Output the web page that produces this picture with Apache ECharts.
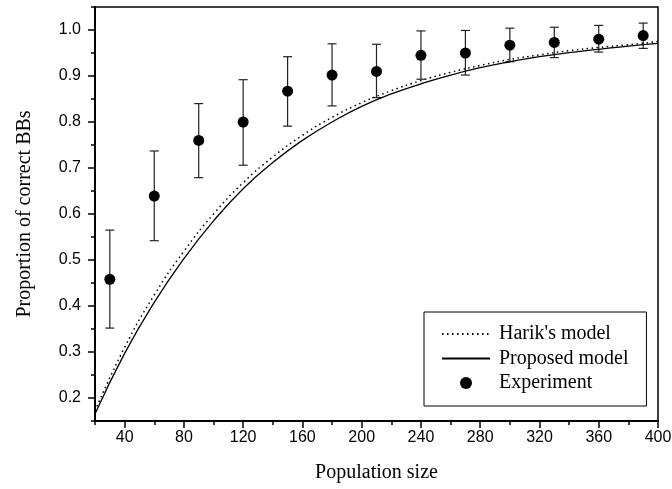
<!DOCTYPE html>
<html>
<head>
<meta charset="utf-8">
<script src="https://cdn.jsdelivr.net/npm/echarts@6/dist/echarts.min.js"></script>
<style>
html,body{margin:0;padding:0;background:#fff;}
#chart{width:672px;height:489px;}
</style>
</head>
<body>
<div id="chart"></div>
<script>
// ---- data ----
const expX    = [30, 60, 90, 120, 150, 180, 210, 240, 270, 300, 330, 360, 390];
const expY    = [0.458, 0.639, 0.760, 0.800, 0.867, 0.902, 0.910, 0.945, 0.950, 0.967, 0.973, 0.980, 0.988];
const expLow  = [0.352, 0.542, 0.679, 0.706, 0.791, 0.835, 0.853, 0.893, 0.902, 0.931, 0.940, 0.952, 0.960];
const expHigh = [0.565, 0.737, 0.840, 0.892, 0.942, 0.970, 0.969, 0.998, 0.999, 1.004, 1.006, 1.010, 1.015];

const modelX    = [20, 40, 60, 80, 100, 120, 140, 160, 180, 200, 220, 240, 260, 280, 300, 320, 340, 360, 380, 400];
const harikY    = [0.172, 0.310, 0.424, 0.519, 0.600, 0.668, 0.724, 0.771, 0.810, 0.842, 0.868, 0.890, 0.908, 0.923, 0.936, 0.946, 0.955, 0.962, 0.968, 0.975];
const proposedY = [0.165, 0.297, 0.408, 0.503, 0.585, 0.655, 0.712, 0.760, 0.800, 0.834, 0.861, 0.883, 0.902, 0.918, 0.931, 0.942, 0.951, 0.958, 0.965, 0.971];

const xMajorTicks = [40, 80, 120, 160, 200, 240, 280, 320, 360, 400];
const xMinorTicks = [20, 60, 100, 140, 180, 220, 260, 300, 340, 380];
const yMajorTicks = [0.2, 0.3, 0.4, 0.5, 0.6, 0.7, 0.8, 0.9, 1.0];
const yMinorTicks = [0.15, 0.25, 0.35, 0.45, 0.55, 0.65, 0.75, 0.85, 0.95, 1.05];

const xName = 'Population size';
const yName = 'Proportion of correct BBs';
const seriesNames = ["Harik's model", 'Proposed model', 'Experiment'];

// ---- chart ----
const chart = echarts.init(document.getElementById('chart'), null, {renderer: 'canvas'});
const sans = 'Liberation Sans, Arial, sans-serif';
const serif = 'Liberation Serif, Times New Roman, serif';

const harikData = modelX.map((x, i) => [x, harikY[i]]);
const propData = modelX.map((x, i) => [x, proposedY[i]]);
const expData = expX.map((x, i) => [x, expY[i]]);
const errData = expX.map((x, i) => [x, expLow[i], expHigh[i]]);

const hiddenSym = {color: 'rgba(0,0,0,0)', borderWidth: 0, opacity: 0};

const option = {
  animation: false,
  backgroundColor: '#fff',
  grid: {
    left: 95, right: 14, top: 7, bottom: 68,
    show: true, borderColor: '#000', borderWidth: 1.5,
    containLabel: false, outerBoundsMode: 'none'
  },
  legend: {
    orient: 'vertical',
    left: 424, top: 312,
    padding: [12, 18, 13, 17],
    borderColor: '#000', borderWidth: 1,
    backgroundColor: '#fff',
    itemWidth: 48, itemHeight: 12, itemGap: 4.5,
    textStyle: {fontFamily: serif, fontSize: 20, color: '#000', lineHeight: 20, padding: [0, 0, 0, 4]},
    data: [
      {name: seriesNames[0], itemStyle: hiddenSym},
      {name: seriesNames[1], itemStyle: hiddenSym},
      {name: seriesNames[2], icon: 'circle', itemStyle: {color: '#000', opacity: 1}}
    ]
  },
  xAxis: [
    {
      type: 'value', position: 'bottom', min: 20, max: 400,
      name: xName, nameLocation: 'middle', nameGap: 42,
      nameTextStyle: {fontFamily: serif, fontSize: 20, color: '#000'},
      axisLine: {show: true, lineStyle: {color: '#000', width: 2}},
      axisTick: {show: true, inside: false, length: 7, customValues: xMajorTicks, lineStyle: {color: '#000', width: 1.5}},
      axisLabel: {show: true, margin: 9, customValues: xMajorTicks, fontFamily: sans, fontSize: 16, color: '#000'},
      splitLine: {show: false}
    },
    {
      type: 'value', position: 'bottom', min: 20, max: 400,
      axisLine: {show: false},
      axisTick: {show: true, inside: false, length: 4, customValues: xMinorTicks, lineStyle: {color: '#000', width: 1.5}},
      axisLabel: {show: false},
      splitLine: {show: false}
    }
  ],
  yAxis: [
    {
      type: 'value', position: 'left', min: 0.15, max: 1.05,
      name: yName, nameLocation: 'middle', nameGap: 60, nameRotate: 90,
      nameTextStyle: {fontFamily: serif, fontSize: 20, color: '#000'},
      axisLine: {show: true, lineStyle: {color: '#000', width: 2}},
      axisTick: {show: true, inside: false, length: 7, customValues: yMajorTicks, lineStyle: {color: '#000', width: 1.5}},
      axisLabel: {show: true, margin: 14, customValues: yMajorTicks, fontFamily: sans, fontSize: 16, color: '#000',
                  formatter: v => v.toFixed(1)},
      splitLine: {show: false}
    },
    {
      type: 'value', position: 'left', min: 0.15, max: 1.05,
      axisLine: {show: false},
      axisTick: {show: true, inside: false, length: 4, customValues: yMinorTicks, lineStyle: {color: '#000', width: 1.5}},
      axisLabel: {show: false},
      splitLine: {show: false}
    }
  ],
  series: [
    {
      name: seriesNames[0], type: 'line', xAxisIndex: 0, yAxisIndex: 0,
      data: harikData, smooth: true, symbol: 'none', clip: true,
      lineStyle: {color: '#000', width: 1.5, type: [1.5, 3.5]},
      itemStyle: {color: '#000'}
    },
    {
      name: seriesNames[1], type: 'line', xAxisIndex: 0, yAxisIndex: 0,
      data: propData, smooth: true, symbol: 'none', clip: true,
      lineStyle: {color: '#000', width: 1.3, type: 'solid'},
      itemStyle: {color: '#000'}
    },
    {
      name: 'errorbars', type: 'custom', xAxisIndex: 0, yAxisIndex: 0,
      data: errData,
      encode: {x: 0, y: [1, 2]},
      renderItem: function (params, api) {
        const x = api.value(0);
        const lo = api.value(1);
        const hi = api.value(2);
        const top = api.coord([x, hi]);
        const bot = api.coord([x, lo]);
        const hw = 4.5;
        const st = {stroke: '#222', lineWidth: 1.2};
        return {
          type: 'group',
          children: [
            {type: 'line', shape: {x1: top[0], y1: top[1], x2: bot[0], y2: bot[1]}, style: st},
            {type: 'line', shape: {x1: top[0] - hw, y1: top[1], x2: top[0] + hw, y2: top[1]}, style: st},
            {type: 'line', shape: {x1: bot[0] - hw, y1: bot[1], x2: bot[0] + hw, y2: bot[1]}, style: st}
          ]
        };
      },
      z: 3
    },
    {
      name: seriesNames[2], type: 'scatter', xAxisIndex: 0, yAxisIndex: 0,
      data: expData, symbol: 'circle', symbolSize: 11,
      itemStyle: {color: '#000', opacity: 1}, z: 4
    }
  ]
};
chart.setOption(option);
</script>
</body>
</html>
